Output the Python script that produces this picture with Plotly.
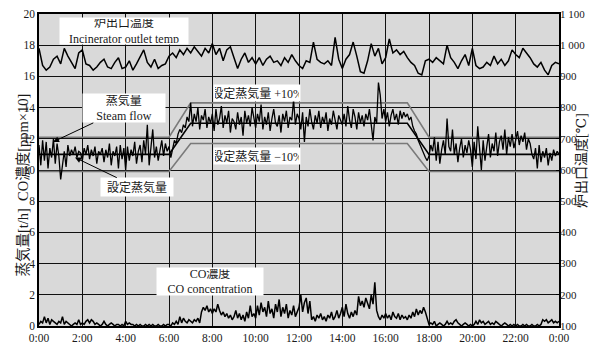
import plotly.graph_objects as go

# ---------------- data ----------------
# time in hours, 5-minute steps for steam flow and CO, 10-minute steps for temperature
steam_flow = [
    11.6, 10.3, 11.9, 10.6, 11.8, 10.1, 11.4, 10.8, 12.0, 10.4, 11.7, 10.9,
    9.4, 10.5, 11.2, 10.2, 11.6, 10.9, 11.3, 11.0, 11.5, 10.8, 11.2, 11.1,
    10.6, 11.4, 11.0, 11.6, 10.7, 11.3, 10.9, 11.5, 10.4, 11.2, 11.0, 11.4,
    10.5, 11.3, 10.8, 11.7, 10.3, 11.2, 10.9, 11.5, 10.1, 11.6, 10.7, 11.4,
    10.0, 11.5, 10.6, 11.3, 10.9, 11.8, 10.4, 11.2, 11.6, 10.5, 11.9, 11.0,
    12.9, 10.3, 11.4, 12.6, 10.8, 11.5, 10.6, 11.3, 11.9, 10.9, 11.7, 11.2,
    11.5, 10.8, 11.4, 11.9, 11.7, 12.3, 12.6, 12.4, 12.9, 12.7, 13.4, 13.1,
    14.3, 12.8, 13.6, 13.1, 14.0, 12.6, 13.5, 13.2, 13.9, 12.7, 13.4, 13.0,
    13.6, 12.5, 13.9, 12.9, 13.3, 14.1, 12.7, 13.5, 13.0, 13.8, 12.4, 13.3,
    13.1, 12.6, 13.7, 12.9, 13.4, 12.2, 13.8, 13.0, 13.5, 12.8, 14.0, 13.2,
    12.7, 13.6, 13.1, 14.2, 12.6, 13.4, 12.9, 13.7, 12.5, 13.3, 13.9, 13.0,
    12.8, 13.5, 12.4, 13.6, 13.1, 13.8, 12.7, 13.4, 13.2, 14.5, 12.9, 13.6,
    13.3, 12.6, 13.7, 11.8, 13.4, 12.8, 13.9, 13.1, 12.6, 13.5, 13.0, 13.8,
    12.7, 13.4, 13.0, 13.7, 12.5, 13.3, 12.9, 13.8, 13.1, 12.6, 13.5, 13.2,
    12.9, 13.6, 12.8, 14.1, 13.2, 12.7, 13.9, 13.4, 12.6, 13.7, 13.0, 13.5,
    12.8, 13.6, 13.2, 13.9, 12.7, 11.9, 13.4, 13.0, 15.6, 14.8, 13.3, 13.9,
    13.1, 13.7, 12.8, 13.5, 13.9, 13.2, 13.6, 12.9, 13.8, 13.3, 13.7, 13.4,
    13.6, 13.2, 13.4, 12.8, 12.5, 12.3, 11.9, 11.6, 11.4, 11.1, 10.8, 10.6,
    10.9, 11.6, 11.2, 12.1, 10.6, 11.8, 10.4, 11.3, 11.9, 11.0, 13.3, 11.5,
    11.2, 12.6, 11.0, 11.7, 10.5, 11.4, 12.0, 10.8, 11.6, 11.1, 11.9, 11.3,
    10.2, 11.8, 10.7, 12.8, 11.1, 10.0, 11.9, 10.6, 11.5, 12.3, 10.8, 11.7,
    11.2, 12.4, 10.9, 11.8, 12.2, 11.3, 12.6, 11.0, 12.1, 11.5, 12.3, 11.4,
    11.9, 12.5, 11.6, 12.2, 11.8, 12.4, 11.3, 12.0, 11.7, 11.0, 10.7, 11.4,
    10.1, 11.6, 10.5, 11.2, 10.8, 11.4, 10.3, 11.1, 10.6, 11.3, 10.9, 11.2,
    11.0,
]

co_conc = [
    0.1, 0.3, 0.2, 0.6, 0.2, 0.5, 0.1, 0.4, 0.3, 0.2, 0.1, 0.3,
    0.2, 0.6, 0.1, 0.3, 0.2, 0.1, 0.0, 0.1, 0.2, 0.1, 0.4, 0.1,
    0.2, 0.1, 0.3, 0.4, 0.2, 0.4, 0.3, 0.1, 0.2, 0.1, 0.0, 0.1,
    0.3, 0.1, 0.0, 0.1, 0.2, 0.1, 0.0, 0.1, 0.1, 0.0, 0.1, 0.0,
    0.3, 0.1, 0.2, 0.1, 0.1, 0.0, 0.1, 0.0, 0.1, 0.0, 0.0, 0.1,
    0.0, 0.1, 0.0, 0.1, 0.0, 0.0, 0.1, 0.0, 0.0, 0.1, 0.0, 0.1,
    0.1, 0.0, 0.2, 0.1, 0.3, 0.1, 0.6, 0.2, 0.5, 0.3, 0.2, 0.4,
    0.3, 0.2, 0.4, 0.3, 0.5, 0.2, 0.9, 1.2, 1.0, 1.3, 0.9, 1.1,
    0.8, 1.1, 0.9, 1.4, 1.0, 0.7, 0.9, 0.6, 0.8, 0.5, 0.7, 0.4,
    0.6, 1.0, 0.5, 0.8, 0.4, 0.7, 0.3, 0.9, 0.5, 1.3, 0.6, 0.8,
    0.5, 1.3, 0.7, 1.5, 0.9, 1.2, 0.6, 1.6, 0.8, 1.1, 0.5, 1.4,
    0.9, 1.7, 0.6, 1.2, 0.8, 1.4, 0.5, 1.0, 0.7, 1.3, 0.6, 0.9,
    1.2, 2.0, 0.9, 1.5, 1.8, 0.8, 1.6, 0.4, 0.6, 0.3, 0.7, 0.5,
    0.8, 0.4, 0.6, 0.3, 0.7, 0.5, 0.9, 0.4, 0.6, 1.0, 0.5, 0.8,
    1.2, 0.6, 1.4, 0.8, 0.5, 0.9, 0.6, 1.0, 0.7, 1.9, 1.3, 1.6,
    1.2, 1.8, 1.5, 1.1, 2.0, 1.4, 2.8, 1.0, 0.6, 0.4, 0.7, 0.5,
    0.8, 0.5, 0.7, 0.4, 0.9, 0.6, 0.5, 0.8, 0.4, 0.7, 0.5, 0.6,
    0.4, 0.7, 0.5, 0.9, 0.6, 1.1, 0.7, 1.0, 0.8, 1.2, 0.9, 0.5,
    0.1, 0.2, 0.1, 0.3, 0.0, 0.1, 0.2, 0.1, 0.0, 0.1, 0.3, 0.1,
    0.2, 0.1, 0.3, 0.4, 0.2, 0.1, 0.0, 0.1, 0.2, 0.1, 0.0, 0.1,
    0.0, 0.1, 0.3, 0.1, 0.4, 0.2, 0.3, 0.1, 0.2, 0.3, 0.1, 0.2,
    0.1, 0.3, 0.2, 0.1, 0.0, 0.1, 0.2, 0.1, 0.0, 0.1, 0.0, 0.1,
    0.0, 0.1, 0.0, 0.0, 0.1, 0.0, 0.1, 0.0, 0.0, 0.1, 0.0, 0.0,
    0.1, 0.0, 0.1, 0.4, 0.3, 0.4, 0.2, 0.3, 0.4, 0.2, 0.3, 0.2,
    0.3,
]

outlet_temp = [
    990, 935, 920, 930, 955, 965,
    940, 990, 965, 945, 925, 975,
    985, 940, 935, 920, 930, 945,
    955, 930, 925, 945, 960, 925,
    930, 950, 920, 940, 965, 985,
    945, 930, 955, 925, 935, 940,
    965, 975, 960, 985, 970, 990,
    975, 995, 980, 965, 990, 975,
    1005, 970, 990, 950, 985, 995,
    960, 925, 955, 975, 945, 960,
    940, 960, 935, 955, 965, 945,
    950, 935, 960, 945, 970, 950,
    935, 925, 950, 945, 1010, 955,
    945, 940, 950, 935, 1025, 955,
    925, 955, 970, 1010, 965, 915,
    910, 950, 1005, 965, 990, 940,
    960, 1020, 975, 985, 970, 980,
    960, 945, 935, 910, 905, 950,
    955, 945, 960, 950, 940, 1000,
    960, 945, 925, 950, 970, 935,
    990, 935, 925, 930, 945, 935,
    965, 940, 955, 935, 950, 985,
    970, 960, 990, 975, 960, 940,
    930, 945, 920, 905, 935, 945,
    940,
]

set_times = [0, 6, 7, 17, 18, 24]
set_steam = [11.0, 11.0, 13.0, 13.0, 11.0, 11.0]
set_plus10 = [12.1, 12.1, 14.3, 14.3, 12.1, 12.1]
set_minus10 = [9.9, 9.9, 11.7, 11.7, 9.9, 9.9]

x_tick_vals = [0, 2, 4, 6, 8, 10, 12, 14, 16, 18, 20, 22, 24]
x_tick_text = ["0:00", "2:00", "4:00", "6:00", "8:00", "10:00", "12:00",
               "14:00", "16:00", "18:00", "20:00", "22:00", "0:00"]
left_tick_vals = [0, 2, 4, 6, 8, 10, 12, 14, 16, 18, 20]
right_tick_vals = [100, 200, 300, 400, 500, 600, 700, 800, 900, 1000, 1100]
right_tick_text = ["100", "200", "300", "400", "500", "600", "700", "800",
                   "900", "1 000", "1 100"]

t5 = [i / 12 for i in range(len(steam_flow))]
t10 = [i / 6 for i in range(len(outlet_temp))]

FONT = "Times New Roman, Liberation Serif, DejaVu Serif, Noto Sans CJK JP, serif"
GRAY = "#7a7a7a"
TXT = "#1a1a1a"

fig = go.Figure()
fig.add_trace(go.Scatter(x=set_times, y=set_plus10, mode="lines",
                         line=dict(color=GRAY, width=1.6)))
fig.add_trace(go.Scatter(x=set_times, y=set_minus10, mode="lines",
                         line=dict(color=GRAY, width=1.6)))
fig.add_trace(go.Scatter(x=set_times, y=set_steam, mode="lines",
                         line=dict(color="black", width=1.6)))
fig.add_trace(go.Scatter(x=t5, y=steam_flow, mode="lines",
                         line=dict(color="black", width=1.3)))
fig.add_trace(go.Scatter(x=t5, y=co_conc, mode="lines",
                         line=dict(color="black", width=1.5)))
fig.add_trace(go.Scatter(x=t10, y=outlet_temp, mode="lines", yaxis="y2",
                         line=dict(color="black", width=1.5)))

ann_font = dict(family=FONT, size=12, color=TXT)
annotations = [
    dict(x=3.92, y=18.9, xref="x", yref="y", text="炉出口温度<br>Incinerator outlet temp",
         showarrow=False, bgcolor="white", width=126, height=24, font=ann_font),
    dict(x=0.65, y=11.8, xref="x", yref="y", ax=3.92, ay=13.95, axref="x", ayref="y",
         text="蒸気量<br>Steam flow", showarrow=True, arrowhead=2, arrowsize=1.2,
         arrowwidth=1, arrowcolor="black", bgcolor="white", width=80, height=26,
         font=ann_font),
    dict(x=1.66, y=10.8, xref="x", yref="y", ax=4.5, ay=8.9, axref="x", ayref="y",
         text="設定蒸気量", showarrow=True, arrowhead=2, arrowsize=1.2,
         arrowwidth=1, arrowcolor="black", bgcolor="white", width=70, height=16,
         font=ann_font),
    dict(x=10.08, y=14.94, xref="x", yref="y", text="設定蒸気量 +10%",
         showarrow=False, bgcolor="white", width=84, height=14, font=ann_font),
    dict(x=10.06, y=10.87, xref="x", yref="y", text="設定蒸気量 −10%",
         showarrow=False, bgcolor="white", width=84, height=14, font=ann_font),
    dict(x=7.89, y=2.88, xref="x", yref="y", text="CO濃度<br>CO concentration",
         showarrow=False, bgcolor="white", width=104, height=25, font=ann_font),
    dict(x=-0.05, y=0.45, xref="paper", yref="paper", text="蒸気量[t/h]  CO濃度[ppm×10]",
         textangle=-90, showarrow=False, font=dict(family=FONT, size=14.5, color=TXT)),
    dict(x=1.0615, y=0.53, xref="paper", yref="paper", text="炉出口温度[℃]",
         textangle=-90, showarrow=False, font=dict(family=FONT, size=14, color=TXT)),
]

fig.update_layout(
    width=597, height=349,
    autosize=False,
    margin=dict(l=39, r=38, t=14, b=23, pad=0, autoexpand=False),
    paper_bgcolor="white",
    plot_bgcolor="#d9d9d9",
    showlegend=False,
    font=dict(family=FONT, size=12, color=TXT),
    annotations=annotations,
    xaxis=dict(range=[0, 24], tickvals=x_tick_vals, ticktext=x_tick_text,
               showgrid=True, gridcolor="#111", gridwidth=1.2, zeroline=False,
               showline=True, linecolor="black", linewidth=1.5, mirror=True,
               ticks="", automargin=False, tickfont=dict(family=FONT, size=11.5)),
    yaxis=dict(range=[0, 20], tickvals=left_tick_vals,
               showgrid=True, gridcolor="#111", gridwidth=1.2, zeroline=False,
               showline=True, linecolor="black", linewidth=1.5, mirror=True,
               ticks="", automargin=False, tickfont=dict(family=FONT, size=11.5)),
    yaxis2=dict(range=[100, 1100], tickvals=right_tick_vals, ticktext=right_tick_text,
                overlaying="y", side="right", showgrid=False, zeroline=False,
                ticks="inside", ticklen=3, tickcolor="black", automargin=False,
                tickfont=dict(family=FONT, size=11)),
)

fig.write_html("out.html", config={"displayModeBar": False},
               post_script="document.body.style.margin='0';")
